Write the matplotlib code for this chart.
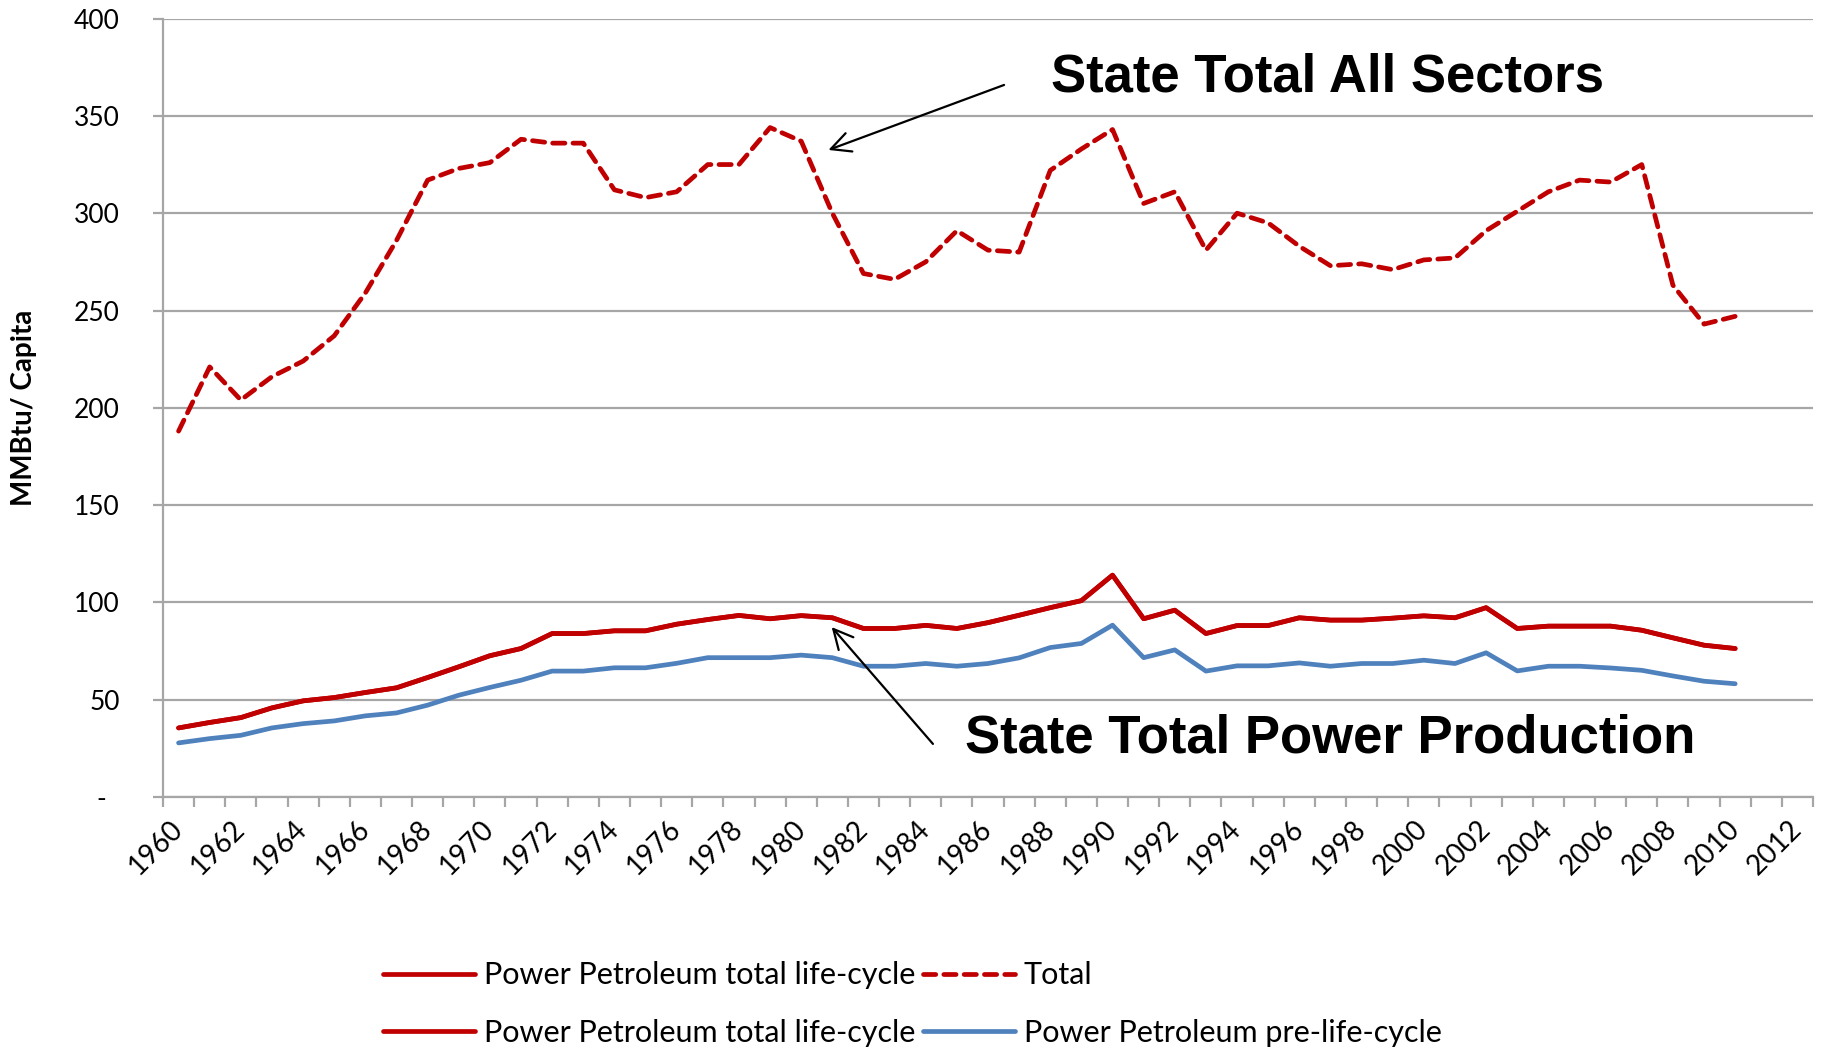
import numpy as np
import matplotlib
matplotlib.use("Agg")
import matplotlib.pyplot as plt
from matplotlib.ticker import FixedLocator

years = list(range(1960, 2013))
data_years = list(range(1960, 2011))

total = [188, 221, 204, 216, 224, 237, 259, 286, 317, 323, 326, 338, 336, 336, 312, 308,
         311, 325, 325, 344, 337, 300, 269, 266, 275, 291, 281, 280, 322, 333, 343,
         305, 311, 281, 300, 295, 283, 273, 274, 271, 276, 277, 291, 301, 311, 317,
         316, 325, 263, 243, 247]

power_total = [35.5, 38.3, 40.8, 45.8, 49.4, 51.1, 53.7, 56.1, 61.4, 66.9, 72.6, 76.3, 84, 84,
               85.4, 85.4, 88.8, 91.2, 93.3, 91.6, 93.2, 92.1, 86.6, 86.6, 88.2, 86.6, 89.6,
               93.4, 97.3, 100.9, 114, 91.6, 96, 84, 88.1, 88.1, 92.1, 90.9, 90.9, 91.9, 93.1,
               92.1, 97.3, 86.6, 87.8, 87.8, 87.8, 85.7, 81.8, 78, 76.3]

power_pre = [27.8, 30, 31.7, 35.5, 37.7, 39.1, 41.7, 43.2, 47.2, 52.3, 56.3, 60, 64.7, 64.7,
             66.4, 66.4, 68.7, 71.6, 71.6, 71.6, 72.9, 71.6, 67.2, 67.2, 68.6, 67.2, 68.6,
             71.5, 76.8, 78.9, 88.3, 71.6, 75.6, 64.7, 67.4, 67.4, 68.9, 67.2, 68.6, 68.6,
             70.3, 68.6, 74.1, 64.8, 67.2, 67.2, 66.3, 65.1, 62.2, 59.5, 58.2]

y_ticks = [0, 50, 100, 150, 200, 250, 300, 350, 400]
y_labels = ["-  ", "50", "100", "150", "200", "250", "300", "350", "400"]

RED = "#C00000"
BLUE = "#4F81BD"
GRID = "#A6A6A6"

W, H = 1825, 1055
fig = plt.figure(figsize=(W / 100, H / 100), dpi=100)
ax = fig.add_axes([163 / W, 1 - 797 / H, (1813 - 163) / W, (797 - 18.6) / H])

x = np.arange(len(data_years))
lw = 3.4
l1, = ax.plot(x, power_total, color=RED, lw=lw, solid_capstyle="round", solid_joinstyle="round",
              label="Power Petroleum total life-cycle", zorder=3)
l2, = ax.plot(x, power_total, color=RED, lw=lw, solid_capstyle="round", solid_joinstyle="round",
              label="Power Petroleum total life-cycle", zorder=3)
l3, = ax.plot(x, total, color=RED, lw=lw, dashes=(2.6, 1.7), dash_capstyle="round",
              dash_joinstyle="round", label="Total", zorder=3)
l4, = ax.plot(x, power_pre, color=BLUE, lw=lw, solid_capstyle="round", solid_joinstyle="round",
              label="Power Petroleum pre-life-cycle", zorder=3)

ax.set_xlim(-0.5, len(years) - 0.5)
ax.set_ylim(0, 400)

for s in ["top", "right"]:
    ax.spines[s].set_visible(False)
for s in ["left", "bottom"]:
    ax.spines[s].set_color(GRID)
    ax.spines[s].set_linewidth(1.6)

ax.set_yticks(y_ticks)
ax.set_yticklabels(y_labels, fontsize=19, family="Lato")
ax.yaxis.grid(True, color=GRID, lw=1.6)
ax.set_axisbelow(True)
ax.tick_params(axis="y", length=7, width=1.6, color=GRID, pad=24)

even_idx = [i for i, yv in enumerate(years) if yv % 2 == 0]
ax.set_xticks(even_idx)
ax.set_xticklabels([str(years[i]) for i in even_idx], fontsize=20, family="Lato",
                   rotation=45, ha="right", va="center", rotation_mode="anchor")
ax.tick_params(axis="x", which="major", length=0, pad=20)
ax.xaxis.set_minor_locator(FixedLocator(np.arange(-0.5, len(years), 1.0)))
ax.tick_params(axis="x", which="minor", length=7, width=1.6, color=GRID)

ax.set_ylabel("MMBtu/ Capita", fontsize=20, fontweight="bold", family="Lato")
ax.yaxis.set_label_coords(-126 / 1650, 0.5)

ann_font = dict(fontsize=38, fontweight="bold", family="Liberation Sans")
ax.text(36.9, 369.5, "State Total All Sectors", ha="center", va="center", **ann_font)
ax.text(37.0, 30.3, "State Total Power Production", ha="center", va="center", **ann_font)
ax.annotate("", xy=(20.79, 332), xytext=(26.6, 366.4),
            arrowprops=dict(arrowstyle="->", lw=1.6, color="black", mutation_scale=35))
ax.annotate("", xy=(20.92, 88.4), xytext=(24.29, 26.2),
            arrowprops=dict(arrowstyle="->", lw=1.6, color="black", mutation_scale=35))

leg = fig.legend(handles=[l1, l2, l3, l4], ncol=2, loc="center", bbox_to_anchor=(0.5, 1 - 1004 / H),
                 frameon=False, prop=dict(family="Lato", size=22), handlelength=3.0,
                 handletextpad=0.3, columnspacing=0.25, labelspacing=0.95)

fig.savefig("out.png", dpi=100)
